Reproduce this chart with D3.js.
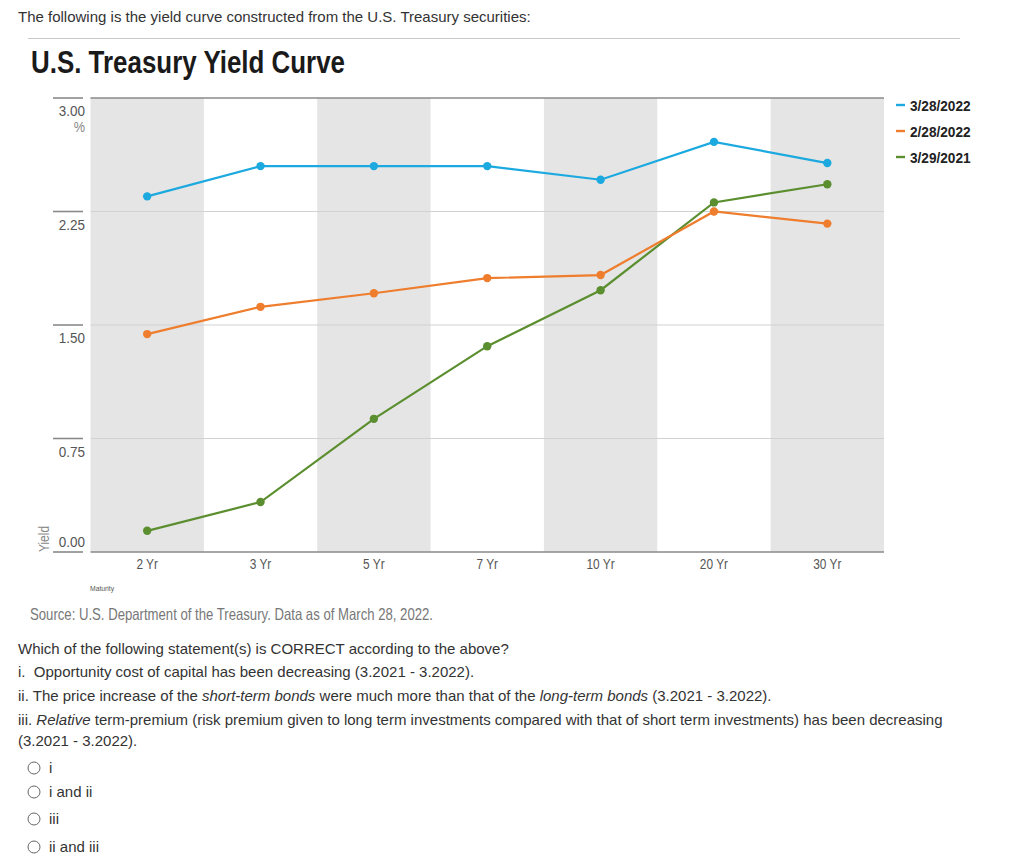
<!DOCTYPE html>
<html>
<head>
<meta charset="utf-8">
<script src="https://cdn.jsdelivr.net/npm/d3@7"></script>
<style>
  body { margin: 0; background: #fff; }
  svg { display: block; }
  .narrow { font-family: "Liberation Sans", Arial, sans-serif; }
  .q { font-family: "Liberation Sans", Arial, sans-serif; font-size: 15px; fill: #333; white-space: pre; }
</style>
</head>
<body>
<svg id="chart" width="1024" height="859"></svg>
<script>
const maturities = ["2 Yr", "3 Yr", "5 Yr", "7 Yr", "10 Yr", "20 Yr", "30 Yr"];
const seriesNames = ["3/28/2022", "2/28/2022", "3/29/2021"];
const yields_2022_03_28 = [2.35, 2.55, 2.55, 2.55, 2.46, 2.71, 2.57];
const yields_2022_02_28 = [1.44, 1.62, 1.71, 1.81, 1.83, 2.25, 2.17];
const yields_2021_03_29 = [0.14, 0.33, 0.88, 1.36, 1.73, 2.31, 2.43];
const yTicks = [0, 0.75, 1.5, 2.25, 3.0];
const colors = ["#1ba9df", "#ee7d2d", "#5b8e2f"];

const allSeries = [yields_2022_03_28, yields_2022_02_28, yields_2021_03_29];

const svg = d3.select("#chart");

// condensed text helper (no narrow font installed): horizontal scale about the anchor
function ntext(parent, px, py, str, size, sx, opts = {}) {
  const t = parent.append("text").attr("class", "narrow")
    .attr("transform", `translate(${px},${py}) scale(${sx},1)`)
    .attr("font-size", size)
    .attr("fill", opts.fill || "#555")
    .attr("text-anchor", opts.anchor || "start")
    .attr("font-weight", opts.weight || "normal")
    .text(str);
  return t;
}

// intro text
svg.append("text").attr("class", "q").attr("x", 18).attr("y", 22)
  .text("The following is the yield curve constructed from the U.S. Treasury securities:");
svg.append("line").attr("x1", 28).attr("x2", 960).attr("y1", 38.5).attr("y2", 38.5)
  .attr("stroke", "#c8c8c8").attr("stroke-width", 1);

svg.append("text").attr("class", "narrow").attr("x", 31).attr("y", 73)
  .attr("font-size", 31).attr("font-weight", "bold").attr("fill", "#1a1a1a")
  .attr("textLength", 314).attr("lengthAdjust", "spacingAndGlyphs")
  .text("U.S. Treasury Yield Curve");

const pL = 90.5, pR = 884, pT = 98, pB = 552;
const x = d3.scaleBand().domain(maturities).range([pL, pR]).padding(0);
const y = d3.scaleLinear().domain([0, 3]).range([pB, pT]);

const g = svg.append("g");

// alternating bands
g.selectAll("rect.band").data(maturities.filter((d, i) => i % 2 === 0)).enter()
  .append("rect").attr("class", "band")
  .attr("x", d => x(d)).attr("width", x.bandwidth())
  .attr("y", pT).attr("height", pB - pT)
  .attr("fill", "#e5e5e5");

// gridlines
g.selectAll("line.grid").data(yTicks.filter(t => t > 0 && t < 3)).enter()
  .append("line").attr("class", "grid")
  .attr("x1", pL).attr("x2", pR)
  .attr("y1", d => y(d)).attr("y2", d => y(d))
  .attr("stroke", "#d2d2d2").attr("stroke-width", 1.2);
// top & bottom lines
[3, 0].forEach(t => {
  g.append("line").attr("x1", pL).attr("x2", pR)
    .attr("y1", y(t)).attr("y2", y(t))
    .attr("stroke", "#8a8a8a").attr("stroke-width", 1.6);
});

// y ticks: short segments left of plot, labels below them (0.00 above)
const yAxis = svg.append("g");
yAxis.selectAll("line").data(yTicks).enter().append("line")
  .attr("x1", 53).attr("x2", 83)
  .attr("y1", d => y(d)).attr("y2", d => y(d))
  .attr("stroke", "#8a8a8a").attr("stroke-width", 1.6);
yTicks.forEach(t => {
  const ty = t === 0 ? y(t) - 5 : y(t) + 18;
  ntext(yAxis, 85, ty, d3.format(".2f")(t), 15, 0.9, { anchor: "end", fill: "#555" });
});
ntext(yAxis, 85, y(3) + 34, "%", 15, 0.85, { anchor: "end", fill: "#888" });

// y title
svg.append("text").attr("class", "narrow")
  .attr("transform", `translate(49,${pB - 13}) rotate(-90) scale(0.8,1)`)
  .attr("text-anchor", "middle").attr("font-size", 15).attr("fill", "#888").text("Yield");

// x labels
const xl = svg.append("g");
maturities.forEach(m => {
  ntext(xl, x(m) + x.bandwidth() / 2, pB + 17, m, 14.5, 0.82, { anchor: "middle", fill: "#555" });
});

ntext(svg, 90, 591, "Maturity", 8, 0.85, { fill: "#555" });

svg.append("text").attr("class", "narrow").attr("x", 30).attr("y", 620)
  .attr("font-size", 16.5).attr("fill", "#777")
  .attr("textLength", 403).attr("lengthAdjust", "spacingAndGlyphs")
  .text("Source: U.S. Department of the Treasury. Data as of March 28, 2022.");

// lines & points (draw oldest first so newest on top)
const line = d3.line().x((d, i) => x(maturities[i]) + x.bandwidth() / 2).y(d => y(d));
[2, 1, 0].forEach(si => {
  const vals = allSeries[si];
  g.append("path").datum(vals).attr("d", line)
    .attr("fill", "none").attr("stroke", colors[si]).attr("stroke-width", 2.2);
  g.selectAll(null).data(vals).enter().append("circle")
    .attr("cx", (d, i) => x(maturities[i]) + x.bandwidth() / 2)
    .attr("cy", d => y(d)).attr("r", 4.2).attr("fill", colors[si]);
});

// legend
const leg = svg.append("g");
seriesNames.forEach((n, i) => {
  const ly = 105 + i * 26;
  leg.append("line").attr("x1", 896).attr("x2", 905).attr("y1", ly).attr("y2", ly)
    .attr("stroke", colors[i]).attr("stroke-width", 2.4);
  ntext(leg, 910, ly + 5.5, n, 15.5, 0.88, { weight: "bold", fill: "#222" });
});

// question text
const q = svg.append("g");
q.append("text").attr("class", "q").attr("x", 18).attr("y", 654)
  .text("Which of the following statement(s) is CORRECT according to the above?");
q.append("text").attr("class", "q").attr("x", 18).attr("y", 677)
  .text("i.  Opportunity cost of capital has been decreasing (3.2021 - 3.2022).");
const t2 = q.append("text").attr("class", "q").attr("x", 18).attr("y", 701);
t2.append("tspan").text("ii. The price increase of the ");
t2.append("tspan").attr("font-style", "italic").text("short-term bonds");
t2.append("tspan").text(" were much more than that of the ");
t2.append("tspan").attr("font-style", "italic").text("long-term bonds");
t2.append("tspan").text(" (3.2021 - 3.2022).");
const t3 = q.append("text").attr("class", "q").attr("x", 18).attr("y", 725);
t3.append("tspan").text("iii. ");
t3.append("tspan").attr("font-style", "italic").text("Relative");
t3.append("tspan").text(" term-premium (risk premium given to long term investments compared with that of short term investments) has been decreasing");
q.append("text").attr("class", "q").attr("x", 18).attr("y", 746).text("(3.2021 - 3.2022).");

const options = ["i", "i and ii", "iii", "ii and iii"];
const optY = [768, 792, 819, 847];
options.forEach((o, i) => {
  q.append("circle").attr("cx", 34).attr("cy", optY[i]).attr("r", 6)
    .attr("fill", "#fff").attr("stroke", "#666").attr("stroke-width", 1);
  q.append("text").attr("class", "q").attr("x", 49).attr("y", optY[i] + 5).text(o);
});
</script>
</body>
</html>
